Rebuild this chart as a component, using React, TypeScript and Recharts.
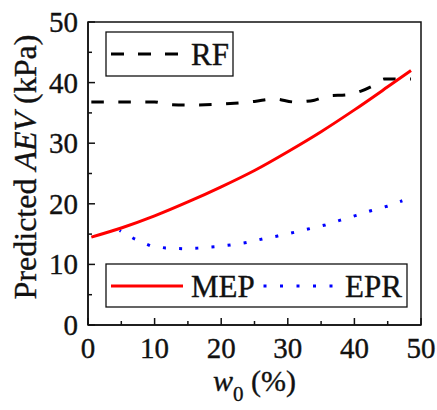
import React from 'react';
import { LineChart, Line, XAxis, YAxis, ReferenceArea } from 'recharts';

const FONT = 'Liberation Serif, Times New Roman, serif';

// values
const mepX = [0.5, 5, 10, 15, 20, 25, 30, 35, 40, 45, 48.5];
const mepY = [14.5, 16.0, 18.0, 20.3, 22.8, 25.5, 28.6, 31.9, 35.5, 39.3, 42.0];

const rfX = [0.5, 5, 10, 12, 15, 19, 22, 25, 28, 31, 34, 36, 39, 41, 43, 44.5, 48.5];
const rfY = [36.8, 36.8, 36.8, 36.4, 36.3, 36.4, 36.6, 36.9, 37.3, 36.8, 37.1, 37.8, 38.0, 38.6, 39.6, 40.6, 40.6];

const eprX = [4.75, 7, 9.3, 11.65, 14.15, 16.5, 19, 21.4, 23.8, 26.2, 28.5, 31, 33.3, 35.6, 37.9, 40.3, 42.6, 44.9, 47.2];
const eprY = [15.6, 14.2, 13.1, 12.7, 12.6, 12.7, 12.9, 13.2, 13.6, 14.2, 14.7, 15.3, 15.9, 16.5, 17.3, 18.1, 18.9, 19.6, 20.5];

const xTicks = [0, 5, 10, 15, 20, 25, 30, 35, 40, 45, 50];
const yTicks = [0, 5, 10, 15, 20, 25, 30, 35, 40, 45, 50];

const toPoints = (xs: number[], ys: number[]) => xs.map((x, i) => ({ x, y: ys[i] }));

const mepData = toPoints(mepX, mepY);
const rfData = toPoints(rfX, rfY);
const eprData = toPoints(eprX, eprY);

const textStyle = { fontFamily: FONT, stroke: '#111', strokeWidth: 0.35 };

const XTick = (props: any) => {
  const { x, y, payload } = props;
  const major = payload.value % 10 === 0;
  return (
    <g>
      <line x1={x} x2={x} y1={y} y2={y - (major ? 7 : 4)} stroke="#111" strokeWidth={1.5} />
      {major && (
        <text x={x} y={y + 33} textAnchor="middle" fontSize={29} style={textStyle} fill="#111">
          {payload.value}
        </text>
      )}
    </g>
  );
};

const YTick = (props: any) => {
  const { x, y, payload } = props;
  const major = payload.value % 10 === 0;
  return (
    <g>
      <line x1={x} x2={x + (major ? 7 : 4)} y1={y} y2={y} stroke="#111" strokeWidth={1.5} />
      {major && (
        <text x={x - 10} y={y + 10} textAnchor="end" fontSize={29} style={textStyle} fill="#111">
          {payload.value}
        </text>
      )}
    </g>
  );
};

export default function App() {
  return (
    <div style={{ position: 'absolute', left: 0, top: 0, width: 437, height: 410, background: '#fff', fontFamily: FONT }}>
      <LineChart width={437} height={410} margin={{ top: 22, right: 16, left: 0, bottom: 0 }}>
        <XAxis
          type="number"
          dataKey="x"
          domain={[0, 50]}
          ticks={xTicks}
          interval={0}
          height={85}
          tickSize={0}
          tickMargin={0}
          tickLine={false}
          axisLine={{ stroke: '#111', strokeWidth: 1.5 }}
          tick={<XTick />}
        />
        <YAxis
          type="number"
          dataKey="y"
          domain={[0, 50]}
          ticks={yTicks}
          interval={0}
          width={88}
          tickSize={0}
          tickMargin={0}
          tickLine={false}
          axisLine={{ stroke: '#111', strokeWidth: 1.5 }}
          tick={<YTick />}
        />
        <ReferenceArea x1={0} x2={50} y1={0} y2={50} fill="none" stroke="#111" strokeWidth={1.5} fillOpacity={0} />
        <Line data={rfData} dataKey="y" type="monotone" stroke="#000" strokeWidth={3} strokeDasharray="12.5 14.5" dot={false} activeDot={false} isAnimationActive={false} />
        <Line data={eprData} dataKey="y" type="linear" stroke="#0000ff" strokeWidth={3} strokeDasharray="3 13.2" strokeDashoffset={1.5} dot={false} activeDot={false} isAnimationActive={false} />
        <Line data={mepData} dataKey="y" type="monotone" stroke="#ff0000" strokeWidth={3} dot={false} activeDot={false} isAnimationActive={false} />
      </LineChart>

      <svg width={437} height={410} style={{ position: 'absolute', left: 0, top: 0, pointerEvents: 'none', ...textStyle }}>
        {/* top legend box */}
        <rect x={106} y={32} width={127} height={44} fill="#fff" stroke="#111" strokeWidth={1.3} />
        <line x1={111} x2={178} y1={54} y2={54} stroke="#000" strokeWidth={3} strokeDasharray="13 14" />
        <text x={191} y={65} fontSize={31} fill="#111">RF</text>

        {/* bottom legend box */}
        <rect x={106} y={264} width={301} height={43} fill="#fff" stroke="#111" strokeWidth={1.3} />
        <line x1={111} x2={183} y1={286} y2={286} stroke="#ff0000" strokeWidth={3} />
        <text x={191} y={297} fontSize={31} fill="#111">MEP</text>
        <line x1={263.5} x2={333} y1={286} y2={286} stroke="#0000ff" strokeWidth={3} strokeDasharray="3 13.5" />
        <text x={345} y={297} fontSize={31} fill="#111">EPR</text>

        {/* axis titles */}
        <text x={254.5} y={391} textAnchor="middle" fontSize={30} fill="#111">
          <tspan fontStyle="italic">w</tspan>
          <tspan fontSize={21} dy={10}>0</tspan>
          <tspan dy={-10}> (%)</tspan>
        </text>
        <text transform="translate(36,167) rotate(-90)" textAnchor="middle" fontSize={32} fill="#111">
          Predicted <tspan fontStyle="italic">AEV</tspan> (kPa)
        </text>
      </svg>
    </div>
  );
}
